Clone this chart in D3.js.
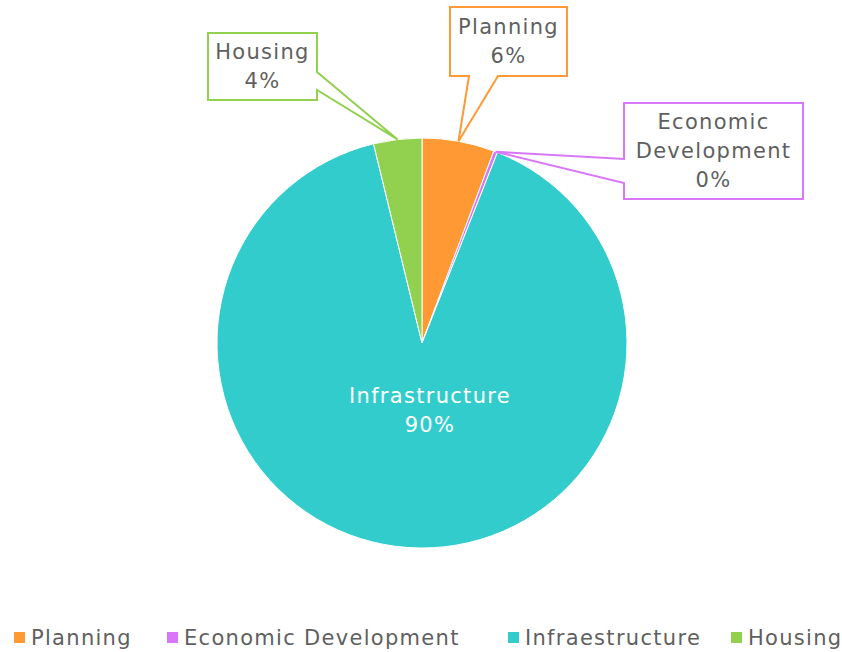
<!DOCTYPE html>
<html>
<head>
<meta charset="utf-8">
<script src="https://cdn.jsdelivr.net/npm/d3@7"></script>
<style>
  body { margin: 0; background: #fff; }
  text { font-family: "DejaVu Sans", sans-serif; fill: #5f5f5f; letter-spacing: 1.3px; }
</style>
</head>
<body>
<div class="chart"></div>
<script>
// chart data
var categories = ["Planning", "Economic Development", "Infrastructure", "Housing"];
var legendNames = ["Planning", "Economic Development", "Infraestructure", "Housing"];
var values = [5.7, 0.3, 90.2, 3.8];
var pctLabels = ["6%", "0%", "90%", "4%"];
var colors = ["#FF9933", "#D877F7", "#33CCCC", "#92D050"];

var svgWidth = 842;
var svgHeight = 652;
var cx = 422, cy = 343, radius = 205;

var svg = d3.select(".chart")
  .append("svg")
  .attr("width", svgWidth)
  .attr("height", svgHeight);

var pieGroup = svg.append("g")
  .attr("transform", `translate(${cx}, ${cy})`);

var pie = d3.pie().sort(null).value(d => d.value);
var arc = d3.arc().innerRadius(0).outerRadius(radius);

var data = categories.map((c, i) => ({ name: c, value: values[i], pct: pctLabels[i], color: colors[i] }));
var arcs = pie(data);

pieGroup.selectAll("path")
  .data(arcs)
  .enter()
  .append("path")
  .attr("d", arc)
  .attr("fill", d => d.data.color)
  .attr("stroke", "#fff")
  .attr("stroke-width", 1);

// callout boxes: [x, y, w, h] and the side the pointer leaves from
var callouts = {
  "Planning": { box: [450, 7, 117, 69], side: "bottom", a: 469, b: 498 },
  "Economic Development": { box: [624, 103, 179, 96], side: "left", a: 159, b: 183 },
  "Housing": { box: [208, 33, 109, 67], side: "right", a: 72, b: 90 }
};

function tipPoint(d) {
  var ang = (d.startAngle + d.endAngle) / 2;
  return [cx + radius * Math.sin(ang), cy - radius * Math.cos(ang)];
}

arcs.forEach(function(d) {
  var c = callouts[d.data.name];
  if (!c) {
    // inside label
    var t = svg.append("text")
      .attr("text-anchor", "middle")
      .style("font-size", "21px")
      .style("fill", "#fff");
    t.append("tspan").attr("x", cx + 8).attr("y", cy + 60).text(d.data.name);
    t.append("tspan").attr("x", cx + 8).attr("y", cy + 89).text(d.data.pct);
    return;
  }
  var x = c.box[0], y = c.box[1], w = c.box[2], h = c.box[3];
  var tip = tipPoint(d);
  var pts;
  if (c.side === "bottom") {
    pts = [[x, y], [x + w, y], [x + w, y + h], [c.b, y + h], tip, [c.a, y + h], [x, y + h]];
  } else if (c.side === "left") {
    pts = [[x, y], [x + w, y], [x + w, y + h], [x, y + h], [x, c.b], tip, [x, c.a]];
  } else {
    pts = [[x, y], [x + w, y], [x + w, c.a], tip, [x + w, c.b], [x + w, y + h], [x, y + h]];
  }
  svg.append("path")
    .attr("d", "M" + pts.map(p => p.join(",")).join("L") + "Z")
    .attr("fill", "#fff")
    .attr("stroke", d.data.color)
    .attr("stroke-width", 2);

  var lines = d.data.name === "Economic Development" ? ["Economic", "Development", d.data.pct] : [d.data.name, d.data.pct];
  var t = svg.append("text")
    .attr("text-anchor", "middle")
    .style("font-size", "21px");
  var startY = y + h / 2 - (lines.length - 1) * 29 / 2 + 7;
  lines.forEach(function(l, i) {
    t.append("tspan").attr("x", x + w / 2).attr("y", startY + i * 29).text(l);
  });
});

// legend
var legendX = [14, 167, 508, 731];
var legend = svg.append("g");
legendNames.forEach(function(n, i) {
  legend.append("rect")
    .attr("x", legendX[i]).attr("y", 632)
    .attr("width", 11).attr("height", 11)
    .attr("fill", colors[i]);
  legend.append("text")
    .attr("x", legendX[i] + 17).attr("y", 645)
    .style("font-size", "21px")
    .text(n);
});
</script>
</body>
</html>
